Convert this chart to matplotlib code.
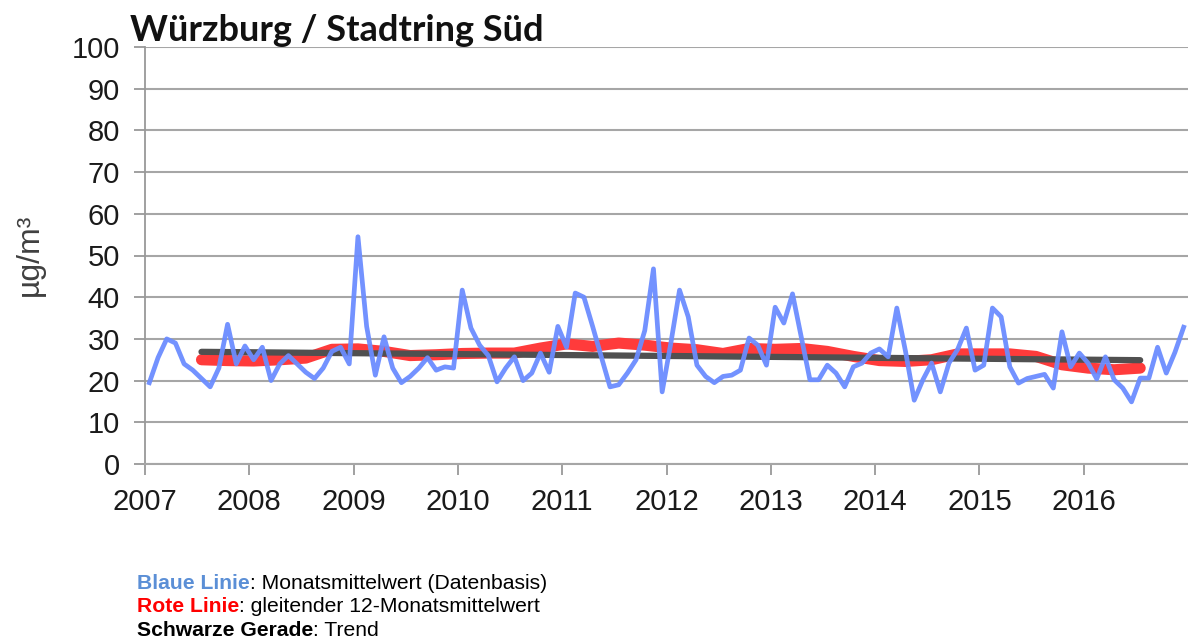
import matplotlib
matplotlib.use("Agg")
import matplotlib.pyplot as plt
import numpy as np

# monthly means Jan 2007 - Dec 2016 (µg/m³)
blue_2007 = [19.5, 25.5, 30.0, 29.0, 24.0, 22.5, 20.5, 18.5, 23.0, 33.5, 24.0, 28.3]
blue_2008 = [25.0, 28.0, 20.0, 24.0, 26.0, 24.0, 22.0, 20.5, 23.0, 27.0, 28.0, 24.0]
blue_2009 = [54.5, 33.0, 21.3, 30.5, 23.0, 19.5, 21.0, 23.0, 25.5, 22.5, 23.3, 23.0]
blue_2010 = [41.7, 32.6, 28.5, 26.0, 19.7, 23.0, 25.7, 20.0, 21.8, 26.6, 22.0, 33.0]
blue_2011 = [28.0, 41.0, 40.0, 33.0, 25.7, 18.5, 19.0, 21.8, 25.0, 32.0, 46.8, 17.3]
blue_2012 = [29.0, 41.7, 35.3, 23.7, 21.0, 19.5, 21.0, 21.3, 22.5, 30.2, 28.5, 23.7]
blue_2013 = [37.6, 33.8, 40.8, 30.5, 20.2, 20.2, 23.7, 21.8, 18.5, 23.3, 24.2, 26.6]
blue_2014 = [27.6, 25.7, 37.4, 27.0, 15.3, 20.2, 24.2, 17.3, 24.2, 27.5, 32.6, 22.5]
blue_2015 = [23.7, 37.4, 35.3, 23.3, 19.4, 20.5, 21.0, 21.5, 18.2, 31.7, 23.3, 26.6]
blue_2016 = [24.2, 20.4, 25.7, 20.2, 18.2, 14.9, 20.6, 20.6, 28.0, 21.8, 26.8, 32.8]
monthly = (blue_2007 + blue_2008 + blue_2009 + blue_2010 + blue_2011
           + blue_2012 + blue_2013 + blue_2014 + blue_2015 + blue_2016)

# 12-month running mean, read every 3rd month from Jul 2007 to Jul 2016
red_first_month = 6
red_step = 3
running = [25.0, 24.8, 24.7, 25.0, 25.4, 27.5, 27.6, 27.0, 26.0, 26.2,
           26.5, 26.6, 26.6, 27.8, 28.8, 28.2, 29.0, 28.5, 27.8, 27.4,
           26.5, 27.7, 27.5, 27.7, 27.0, 25.8, 24.8, 24.6, 25.0, 26.4,
           26.4, 26.4, 25.8, 23.8, 23.0, 22.6, 23.0]

# trend line, Jul 2007 and Jul 2016
trend_months = [6, 114]
trend_values = [26.9, 24.9]

year_ticks = list(range(2007, 2017))
y_ticks = list(range(0, 101, 10))


def month_to_year(m):
    return 2007 + (np.asarray(m) + 0.5) / 12.0


fig = plt.figure(figsize=(11.88, 6.44), dpi=100)
ax = fig.add_axes([145 / 1188, 1 - 464 / 644, 1 - 145 / 1188, (464 - 47) / 644])

x_blue = month_to_year(np.arange(len(monthly)))
red_months = red_first_month + red_step * np.arange(len(running))

ax.plot(month_to_year(red_months), running, color="#ff3b3b", lw=8,
        solid_capstyle="round", solid_joinstyle="round", zorder=3)
ax.plot(month_to_year(trend_months), trend_values, color="#505050", lw=4.5,
        solid_capstyle="round", zorder=4)
ax.plot(x_blue, monthly, color="#6b8cff", lw=3.4, solid_joinstyle="round",
        alpha=0.95, zorder=5)

ax.set_xlim(2007, 2017)
ax.set_ylim(0, 100)
ax.set_xticks(year_ticks)
ax.set_yticks(y_ticks)
ax.tick_params(axis="both", colors="#999999", labelcolor="#1a1a1a",
               labelsize=21, length=8, width=1.3)
ax.tick_params(axis="x", pad=9)
ax.tick_params(axis="y", pad=10)
ax.grid(axis="y", color="#a6a6a6", lw=1.5)
ax.set_axisbelow(True)
for side in ["top", "right"]:
    ax.spines[side].set_visible(False)
ax.spines["left"].set_color("#999999")
ax.spines["left"].set_linewidth(1.3)
ax.spines["bottom"].set_color("#a6a6a6")
ax.spines["bottom"].set_linewidth(1.5)

fig.text(30 / 1188, 1 - 255 / 644, "µg/m³", rotation=90, fontsize=23,
         color="#404040", ha="center", va="center", family="Liberation Sans")

fig.text(130 / 1188, 1 - 41 / 644, "Würzburg / Stadtring Süd",
         fontsize=26, fontweight="bold", family="Lato", ha="left",
         va="baseline", color="#111111")

# bottom explanation lines: coloured bold part + plain part
notes = [("Blaue Linie", "#5b8fd6", ": Monatsmittelwert (Datenbasis)"),
         ("Rote Linie", "#ff0000", ": gleitender 12-Monatsmittelwert"),
         ("Schwarze Gerade", "#000000", ": Trend")]
renderer = fig.canvas.get_renderer()
y0 = 589
for k, (head, col, rest) in enumerate(notes):
    yy = 1 - (y0 + 23.5 * k) / 644
    t = fig.text(137 / 1188, yy, head, fontsize=15.2, fontweight="bold",
                 color=col, family="Liberation Sans", va="baseline")
    bb = t.get_window_extent(renderer)
    fig.text(bb.x1 / 1188, yy, rest, fontsize=15.2, color="#000000",
             family="Liberation Sans", va="baseline")

for lab in ax.get_xticklabels() + ax.get_yticklabels():
    lab.set_family("Liberation Sans")

fig.savefig("out.png", dpi=100)
